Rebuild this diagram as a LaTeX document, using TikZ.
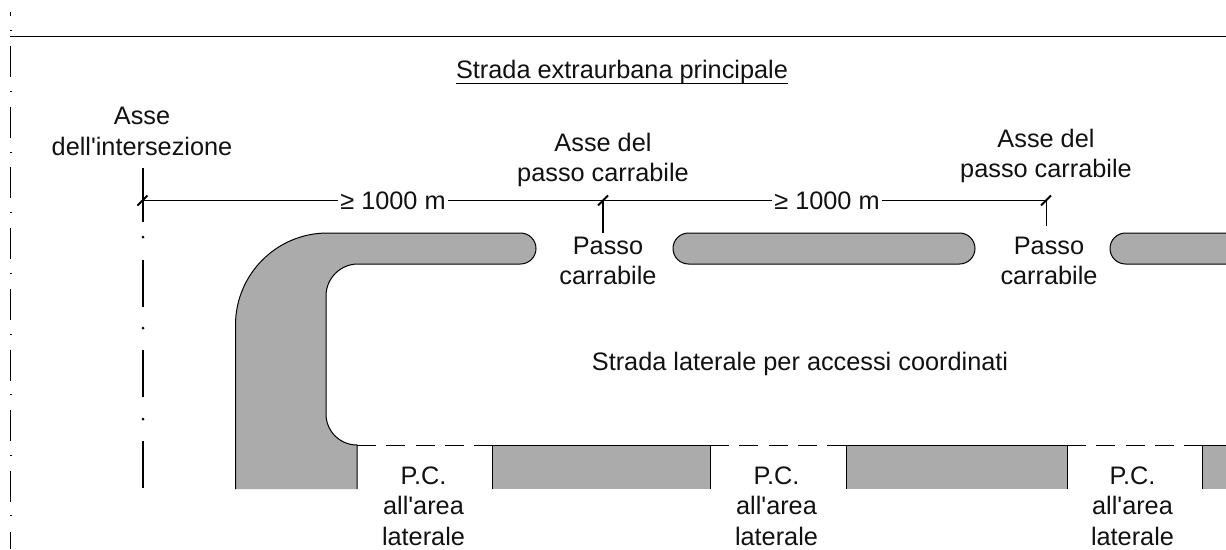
\documentclass[tikz,border=0pt]{standalone}
\usepackage{fontspec}
\setmainfont{Liberation Sans}
\definecolor{roadgray}{HTML}{ABABAB}
\definecolor{inkk}{HTML}{111111}
\newcommand{\qq}{\textquotesingle}
\tikzset{
  lbl/.style={align=center,inner sep=0pt,text=inkk,font=\fontsize{25.3}{30.6}\selectfont},
  dimlbl/.style={lbl,inner sep=2pt,fill=none},
  road/.style={fill=roadgray,draw=none},
  edge/.style={draw=black,line width=1pt},
  thinline/.style={draw=black,line width=1pt},
  tick/.style={draw=black,line width=2pt},
  axisline/.style={draw=black,line width=2pt},
  bordline/.style={draw=black,line width=1pt,dash pattern=on 19pt off 10.3pt},
  dotmark/.style={fill=black,circle,inner sep=0pt,minimum size=3pt}
}
\begin{document}
\begin{tikzpicture}[x=1pt,y=-1pt]
\useasboundingbox (0,0) rectangle (1226,549);
% left margin dash-dot line
\draw[black,line width=1pt] (10.5,12) -- (10.5,16);
\draw[black,line width=0.7pt] (9.5,30.5) -- (11.5,30.5);
\foreach \y in {46,106.7,167.4,228.1,288.8,349.5,410.2,470.9,531.6}{
  \draw[black,line width=1pt] (10.5,\y) -- (10.5,{min(\y+31,549)});
}
\foreach \y in {91,152,212,273,334,394,455,515}{
  \draw[black,line width=0.7pt] (10,\y) -- (12,\y);
}
\draw[thinline] (10,36.5) -- (1226,36.5);
% roads
\path[road] (235.5,489) -- (235.5,325) arc[start angle=-180,end angle=-90,radius=92] -- (520.5,233)
  arc[start angle=-90,end angle=90,radius=15.5] -- (358,264)
  arc[start angle=-90,end angle=-180,radius=32] -- (326,414)
  arc[start angle=180,end angle=90,radius=31] -- (357,489) -- cycle;
\draw[edge] (235.5,489) -- (235.5,325) arc[start angle=-180,end angle=-90,radius=92] -- (520.5,233)
  arc[start angle=-90,end angle=90,radius=15.5] -- (358,264)
  arc[start angle=-90,end angle=-180,radius=32] -- (326,414)
  arc[start angle=180,end angle=90,radius=31] -- (357,489);
\draw[edge,fill=roadgray] (688.5,233) -- (959.5,233) arc[start angle=-90,end angle=90,radius=15.5]
  -- (688.5,264) arc[start angle=90,end angle=270,radius=15.5] -- cycle;
\draw[edge,fill=roadgray] (1230,233) -- (1125.5,233) arc[start angle=-90,end angle=-270,radius=15.5] -- (1230,264);
\path[road] (492,445) rectangle (710,489);
\path[road] (846,445) rectangle (1067,489);
\path[road] (1202,445) rectangle (1230,489);
\draw[edge] (492,489) -- (492,445) -- (710,445) -- (710,489);
\draw[edge] (846,489) -- (846,445) -- (1067,445) -- (1067,489);
\draw[edge] (1202,489) -- (1202,445) -- (1230,445);
\draw[bordline] (357,445) -- (492,445);
\draw[bordline] (710,445) -- (846,445);
\draw[bordline] (1067,445) -- (1202,445);
% axis of the intersection
\coordinate (tA) at (142.5,200.5);
\coordinate (tB) at (603,200.5);
\coordinate (tC) at (1046,200.5);
\coordinate (axisTop) at (142.5,168);
\draw[axisline] (axisTop) -- (142.5,222);
\foreach \y in {260,350,441}{ \draw[axisline] (142.5,\y) -- (142.5,\y+47); }
\foreach \y in {237,328,419}{ \node[dotmark] at (143,\y) {}; }
% labels
\node[lbl] (title) at (622,71.5) {Strada extraurbana principale};
\draw[black,line width=1.4pt] (title.west |- 0,83.5) -- (title.east |- 0,83.5);
\node[lbl] (asseA) at (142,131.5) {Asse\\dell\qq intersezione};
\node[lbl] (asseB) at (603,160) {Asse del\\passo carrabile};
\node[lbl] (asseC) at (1046,156) {Asse del\\passo carrabile};
\node[dimlbl] (d1) at (393,201) {≥ 1000 m};
\node[dimlbl] (d2) at (827,201) {≥ 1000 m};
\node[lbl] (pB) at (608,261) {Passo\\carrabile};
\node[lbl] (pC) at (1049,261) {Passo\\carrabile};
\node[lbl] (lat) at (800,364) {Strada laterale per accessi coordinati};
\node[lbl] (pc1) at (423.5,506) {P.C.\\all\qq area\\laterale};
\node[lbl] (pc2) at (776.5,506) {P.C.\\all\qq area\\laterale};
\node[lbl] (pc3) at (1132.5,506) {P.C.\\all\qq area\\laterale};
% dimension lines
\draw[thinline] (tA) -- (d1.west |- tA);
\draw[thinline] (d1.east |- tA) -- (tB) -- (d2.west |- tB);
\draw[thinline] (d2.east |- tC) -- (tC);
\draw[axisline] (tB) -- (603,233);
\draw[thinline] (tC) -- (1046,226);
\foreach \p in {tA,tB,tC}{
  \draw[tick] ([shift={(-5,5)}]\p) -- ([shift={(5,-5)}]\p);
}
\end{tikzpicture}
\end{document}
